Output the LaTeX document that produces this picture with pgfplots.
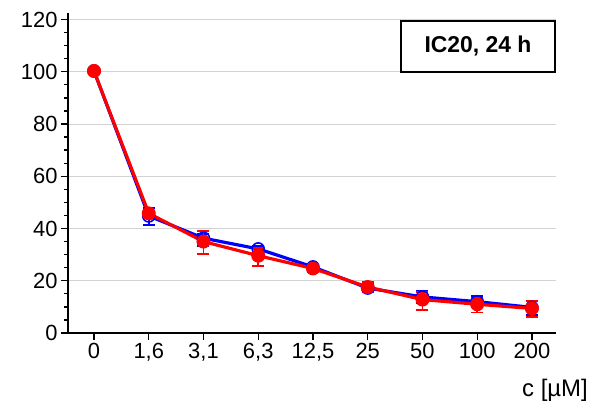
\documentclass[border=0pt]{standalone}
\usepackage{fontspec}
\setmainfont{Liberation Sans}
\usepackage{pgfplots}
\pgfplotsset{compat=1.18}
\definecolor{gridgray}{RGB}{210,210,210}
\begin{document}
\begin{tikzpicture}
\useasboundingbox (-68bp,-73bp) rectangle (529bp,333bp);
\begin{axis}[
  scale only axis,
  width=488bp, height=320bp,
  xmin=-0.475, xmax=8.44,
  ymin=0, ymax=122.5,
  axis x line*=bottom, axis y line*=left,
  axis line style={line width=1.4pt, -},
  xtick={0,1,2,3,4,5,6,7,8},
  xticklabels={0,{1,6},{3,1},{6,3},{12,5},25,50,100,200},
  ytick={0,20,40,60,80,100,120},
  minor y tick num=3,
  tick align=outside,
  major tick length=7bp, minor tick length=4bp,
  tick style={line width=1.3pt, black},
  ymajorgrids, grid style={gridgray, line width=1pt},
  /pgf/number format/assume math mode=true,
  ticklabel style={font=\fontsize{22}{26}\selectfont},
  xlabel={c [µM]},
  xlabel style={at={(rel axis cs:1,0)}, anchor=base east, inner sep=0pt,
    xshift=32bp, yshift=-63.5bp, font=\fontsize{24}{28}\selectfont},
  clip=false,
]
\addplot[blue, line width=3.2pt, mark=o, mark size=6bp,
  mark options={line width=1.6pt, solid},
  error bars/.cd, y dir=both, y explicit,
  error bar style={line width=1.6pt, blue}, error mark options={rotate=90, mark size=6bp, line width=1.6pt, blue}]
coordinates {
 (0,100.3) +- (0,0.8)
 (1,44.8) += (0,3) -= (0,3.5)
 (2,36.3) += (0,1.5) -= (0,3)
 (3,32.2) +- (0,1)
 (4,25.3) +- (0,1)
 (5,17.2) +- (0,1.5)
 (6,13.8) += (0,2.2) -= (0,2.5)
 (7,12.0) += (0,2.2) -= (0,2.3)
 (8,9.8) += (0,2.6) -= (0,2.8)
};
\addplot[red, line width=3.2pt, mark=*, mark size=6.5bp,
  mark options={solid, fill=red, draw=red, line width=1pt},
  error bars/.cd, y dir=both, y explicit,
  error bar style={line width=1.6pt, red}, error mark options={rotate=90, mark size=6bp, line width=1.6pt, red}]
coordinates {
 (0,100.3) +- (0,0.8)
 (1,45.8) +- (0,1)
 (2,35.0) += (0,4) -= (0,4.8)
 (3,29.6) += (0,3) -= (0,4)
 (4,24.7) +- (0,1.5)
 (5,17.6) +- (0,2)
 (6,12.8) += (0,3) -= (0,4)
 (7,11.0) += (0,2.5) -= (0,3.2)
 (8,9.4) += (0,2.8) -= (0,3.2)
};
\node[draw, line width=2bp, fill=white, anchor=north east, minimum width=154bp, minimum height=51bp,
  font=\bfseries\fontsize{23}{27}\selectfont] at (axis cs:8.44,120) {IC20, 24 h};
\end{axis}
\end{tikzpicture}
\end{document}
